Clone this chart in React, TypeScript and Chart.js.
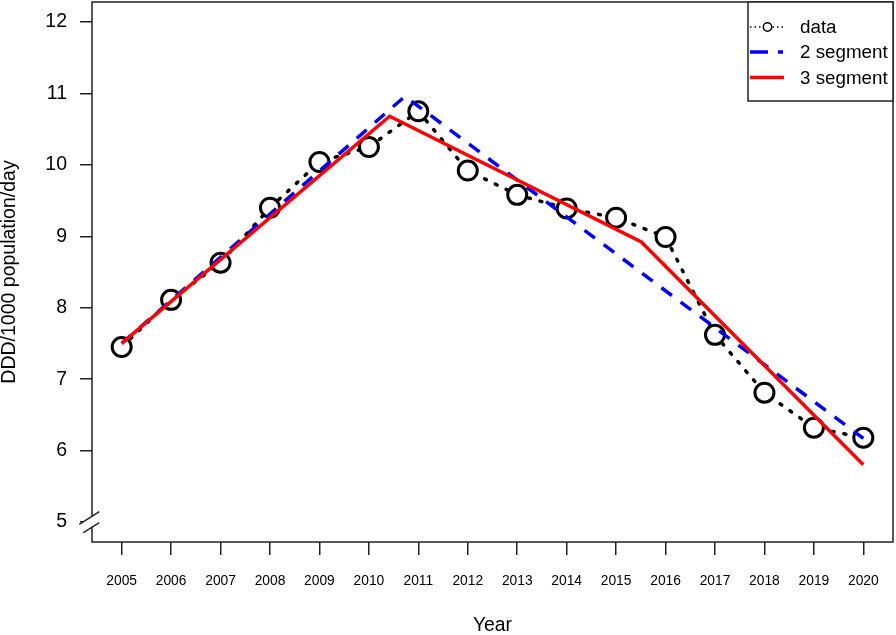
import React, { useEffect, useRef } from "react";
import { Chart, registerables } from "chart.js";

Chart.register(...registerables);

// ---- data ----
const years = [2005, 2006, 2007, 2008, 2009, 2010, 2011, 2012, 2013, 2014, 2015, 2016, 2017, 2018, 2019, 2020];
const dddValues = [7.45, 8.11, 8.63, 9.4, 10.04, 10.25, 10.75, 9.92, 9.58, 9.39, 9.26, 8.99, 7.62, 6.81, 6.32, 6.18];
const seg2Years = [2005, 2010.73, 2020];
const seg2Values = [7.5, 10.96, 6.17];
const seg3Years = [2005, 2010.42, 2015.51, 2020];
const seg3Values = [7.5, 10.68, 8.92, 5.8];
const yTickValues = [5, 6, 7, 8, 9, 10, 11, 12];
const legendLabels = ["data", "2 segment", "3 segment"];
const xTitle = "Year";
const yTitle = "DDD/1000 population/day";

const FONT = "'Liberation Sans', Arial, Helvetica, sans-serif";
const AXIS_COLOR = "#222";

const decorPlugin = {
  id: "decor",
  afterDraw(chart: any) {
    const { ctx, chartArea } = chart;
    const ys = chart.scales.y;
    const { left, right, top, bottom } = chartArea;
    ctx.save();
    // box
    ctx.strokeStyle = AXIS_COLOR;
    ctx.lineWidth = 1.5;
    ctx.strokeRect(left, top, right - left, bottom - top);

    // axis break at y = 5
    const cx = left;
    const cy = ys.getPixelForValue(5);
    const u1 = [cx - 12.7, cy + 2.3];
    const u2 = [cx + 7.3, cy - 10.3];
    const l1 = [cx - 8.7, cy + 10.7];
    const l2 = [cx + 7.3, cy + 0.7];
    ctx.fillStyle = "#fff";
    ctx.beginPath();
    ctx.moveTo(u1[0], u1[1]);
    ctx.lineTo(u2[0], u2[1]);
    ctx.lineTo(l2[0], l2[1]);
    ctx.lineTo(l1[0], l1[1]);
    ctx.closePath();
    ctx.fill();
    ctx.strokeStyle = AXIS_COLOR;
    ctx.lineWidth = 1.5;
    ctx.beginPath();
    ctx.moveTo(u1[0], u1[1]);
    ctx.lineTo(u2[0], u2[1]);
    ctx.moveTo(l1[0], l1[1]);
    ctx.lineTo(l2[0], l2[1]);
    ctx.stroke();

    // legend
    const bw = 145;
    const bh = 99;
    const bx = right - bw;
    const by = top;
    ctx.fillStyle = "#fff";
    ctx.fillRect(bx, by, bw, bh);
    ctx.strokeStyle = AXIS_COLOR;
    ctx.lineWidth = 1.5;
    ctx.strokeRect(bx, by, bw, bh);

    const rowY = [by + 25, by + 50, by + 75.5];
    const sx0 = bx + 2;
    const sx1 = bx + 35;
    // data sample
    ctx.strokeStyle = "#000";
    ctx.lineWidth = 1.3;
    ctx.setLineDash([1.5, 3]);
    ctx.beginPath();
    ctx.moveTo(sx0, rowY[0]);
    ctx.lineTo(sx1, rowY[0]);
    ctx.stroke();
    ctx.setLineDash([]);
    ctx.fillStyle = "#fff";
    ctx.beginPath();
    ctx.arc((sx0 + sx1) / 2 + 1, rowY[0], 4.2, 0, Math.PI * 2);
    ctx.fill();
    ctx.lineWidth = 1.5;
    ctx.stroke();
    // 2 segment sample
    ctx.strokeStyle = "#0000ff";
    ctx.lineWidth = 3.5;
    ctx.setLineDash([18, 10]);
    ctx.beginPath();
    ctx.moveTo(sx0, rowY[1]);
    ctx.lineTo(sx1, rowY[1]);
    ctx.stroke();
    ctx.setLineDash([]);
    // 3 segment sample
    ctx.strokeStyle = "#ff0000";
    ctx.lineWidth = 3.5;
    ctx.beginPath();
    ctx.moveTo(sx0, rowY[2]);
    ctx.lineTo(sx1 + 1, rowY[2]);
    ctx.stroke();

    ctx.fillStyle = "#000";
    ctx.font = `18.8px ${FONT}`;
    ctx.textAlign = "left";
    ctx.textBaseline = "middle";
    legendLabels.forEach((t, i) => ctx.fillText(t, bx + 52, rowY[i] + 1));
    ctx.restore();
  },
};

export default function App() {
  const canvasRef = useRef<HTMLCanvasElement | null>(null);

  useEffect(() => {
    const canvas = canvasRef.current;
    if (!canvas) return;
    const chart = new Chart(canvas, {
      type: "line",
      data: {
        datasets: [
          {
            label: legendLabels[0],
            data: years.map((x, i) => ({ x, y: dddValues[i] })),
            borderColor: "#000",
            borderWidth: 3.5,
            borderDash: [2, 10],
            borderCapStyle: "round",
            pointRadius: 9.5,
            pointBorderWidth: 3,
            pointBackgroundColor: "#fff",
            pointBorderColor: "#000",
            tension: 0,
            order: 3,
          },
          {
            label: legendLabels[1],
            data: seg2Years.map((x, i) => ({ x, y: seg2Values[i] })),
            borderColor: "#0000ff",
            borderWidth: 3.5,
            borderDash: [13, 11],
            pointRadius: 0,
            tension: 0,
            order: 2,
          },
          {
            label: legendLabels[2],
            data: seg3Years.map((x, i) => ({ x, y: seg3Values[i] })),
            borderColor: "#ff0000",
            borderWidth: 3.5,
            pointRadius: 0,
            tension: 0,
            order: 1,
          },
        ],
      },
      options: {
        responsive: false,
        animation: false,
        devicePixelRatio: 1,
        layout: { autoPadding: false, padding: { top: 2, right: 3, left: 0, bottom: 0 } },
        plugins: { legend: { display: false }, tooltip: { enabled: false } },
        scales: {
          x: {
            type: "linear",
            min: 2004.4,
            max: 2020.6,
            afterBuildTicks: (s: any) => {
              s.ticks = years.map((v) => ({ value: v }));
            },
            afterFit: (s: any) => {
              s.height = 93;
              s.paddingLeft = 0;
              s.paddingRight = 0;
              s.paddingTop = 0;
              s.paddingBottom = 0;
            },
            grid: {
              drawOnChartArea: false,
              drawTicks: true,
              tickLength: 13,
              tickColor: AXIS_COLOR,
              tickWidth: 1.5,
              color: AXIS_COLOR,
              lineWidth: 1.5,
            },
            border: { display: false },
            ticks: {
              callback: (v: any) => String(v),
              font: { family: FONT, size: 13.8 },
              color: "#000",
              padding: 18,
              maxRotation: 0,
              autoSkip: false,
            },
            title: {
              display: true,
              text: xTitle,
              font: { family: FONT, size: 19.3, lineHeight: 1.0 },
              color: "#000",
              padding: 0,
            },
          },
          y: {
            type: "linear",
            min: 4.72,
            max: 12.28,
            afterBuildTicks: (s: any) => {
              s.ticks = yTickValues.map((v) => ({ value: v }));
            },
            afterFit: (s: any) => {
              s.width = 92;
              s.paddingLeft = 0;
              s.paddingRight = 0;
              s.paddingTop = 0;
              s.paddingBottom = 0;
            },
            grid: {
              drawOnChartArea: false,
              drawTicks: true,
              tickLength: 12,
              tickColor: AXIS_COLOR,
              tickWidth: 1.5,
              color: AXIS_COLOR,
              lineWidth: 1.5,
            },
            border: { display: false },
            ticks: {
              callback: (v: any) => String(v),
              font: { family: FONT, size: 19.5 },
              color: "#000",
              padding: 13,
            },
            title: {
              display: true,
              text: yTitle,
              font: { family: FONT, size: 19.5, lineHeight: 1.0 },
              color: "#000",
              padding: 0,
            },
          },
        },
      },
      plugins: [decorPlugin],
    } as any);
    return () => chart.destroy();
  }, []);

  return (
    <div style={{ position: "fixed", left: 0, top: 0, width: 896, height: 635, background: "#fff" }}>
      <canvas ref={canvasRef} width={896} height={635} style={{ width: 896, height: 635, display: "block" }} />
    </div>
  );
}
